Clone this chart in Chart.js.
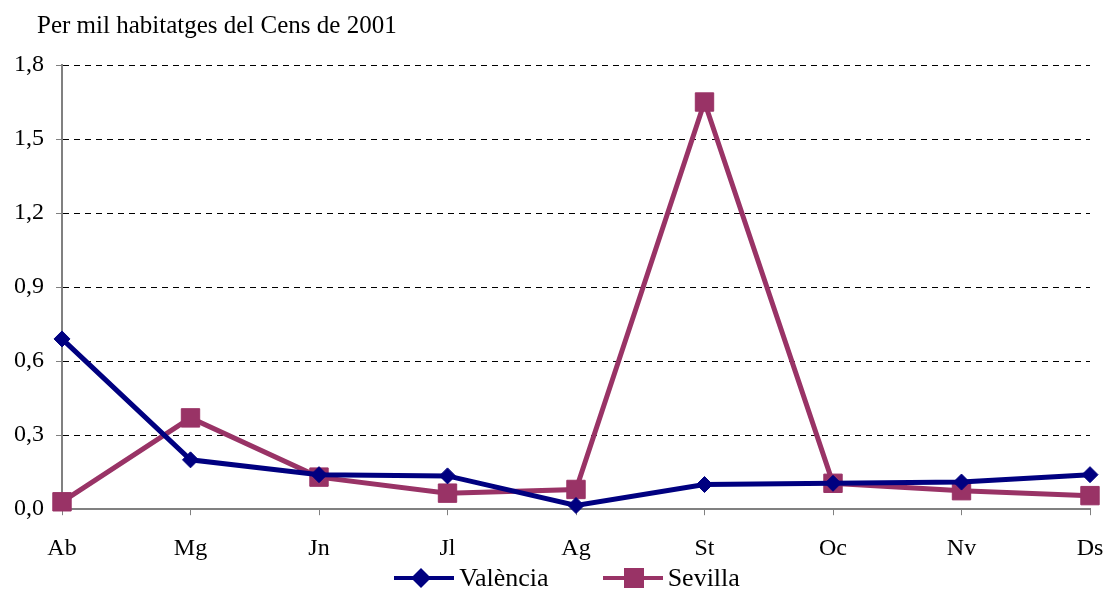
<!DOCTYPE html>
<html>
<head>
<meta charset="utf-8">
<script src="https://cdn.jsdelivr.net/npm/chart.js@4/dist/chart.umd.min.js"></script>
<style>
  body { margin: 0; background: #fff; }
  #wrap { position: relative; width: 1104px; height: 590px; font-family: "Liberation Serif", "Times New Roman", serif; }
  #title { position: absolute; left: 37px; top: 11px; font-size: 25px; color: #000; white-space: nowrap; }
  #legend { position: absolute; left: 15px; width: 1104px; top: 562px; height: 32px; display: flex; justify-content: center; align-items: center; font-size: 26px; color: #000; }
  .item { display: flex; align-items: center; margin: 0 27px; }
  .item canvas { margin-right: 5px; }
</style>
</head>
<body>
<div id="wrap">
  <canvas id="myChart" width="1104" height="590"></canvas>
  <div id="title">Per mil habitatges del Cens de 2001</div>
  <div id="legend"></div>
</div>
<script>
const months = ["Ab", "Mg", "Jn", "Jl", "Ag", "St", "Oc", "Nv", "Ds"];
const valencia = [0.69, 0.20, 0.14, 0.135, 0.015, 0.10, 0.105, 0.11, 0.14];
const sevilla = [0.03, 0.37, 0.13, 0.065, 0.08, 1.65, 0.105, 0.075, 0.055];
const yTicks = [0, 0.3, 0.6, 0.9, 1.2, 1.5, 1.8];

const navy = "#000080";
const plum = "#993366";
const font = "'Liberation Serif', 'Times New Roman', serif";

const ctx = document.getElementById("myChart").getContext("2d");
const chart = new Chart(ctx, {
  type: "line",
  data: {
    labels: months,
    datasets: [
      {
        label: "València",
        data: valencia,
        borderColor: navy,
        backgroundColor: navy,
        borderWidth: 5,
        pointStyle: "rectRot",
        pointRadius: 8,
        pointBorderWidth: 1,
        clip: false,
      },
      {
        label: "Sevilla",
        data: sevilla,
        borderColor: plum,
        backgroundColor: plum,
        borderWidth: 5,
        pointStyle: "rect",
        pointRadius: 13,
        pointBorderWidth: 1,
        clip: false,
      },
    ],
  },
  options: {
    responsive: false,
    animation: false,
    layout: { autoPadding: false, padding: { top: 65, right: 0, bottom: 8, left: 0 } },
    plugins: {
      tooltip: { enabled: false },
      legend: { display: false },
    },
    scales: {
      x: {
        offset: false,
        afterFit: (scale) => {
          // only keep room for half of the last label
          scale.paddingRight = 14;
        },
        border: { color: "#808080", width: 2 },
        grid: { drawOnChartArea: false, drawTicks: true, tickLength: 6, color: "#808080" },
        ticks: { color: "#000", padding: 19, font: { family: font, size: 24 }, maxRotation: 0 },
      },
      y: {
        min: 0,
        max: 1.8,
        afterBuildTicks: (scale) => {
          scale.ticks = yTicks.map((v) => ({ value: v }));
        },
        afterFit: (scale) => {
          scale.width = 62;
        },
        border: { color: "#808080", width: 2, dash: [6, 5] },
        grid: {
          color: "#000",
          lineWidth: 1,
          tickLength: 6,
          tickColor: "#808080",
          tickBorderDash: [],
        },
        ticks: {
          color: "#000",
          padding: 12,
          font: { family: font, size: 24 },
          callback: (v) => Number(v).toFixed(1).replace(".", ","),
        },
      },
    },
  },
});

// legend: line with marker, then the series name
const legend = document.getElementById("legend");
chart.data.datasets.forEach((ds) => {
  const item = document.createElement("div");
  item.className = "item";
  const c = document.createElement("canvas");
  c.width = 60;
  c.height = 24;
  const g = c.getContext("2d");
  g.strokeStyle = ds.borderColor;
  g.fillStyle = ds.borderColor;
  g.lineWidth = 4;
  g.beginPath();
  g.moveTo(0, 12);
  g.lineTo(60, 12);
  g.stroke();
  g.beginPath();
  if (ds.pointStyle === "rectRot") {
    g.moveTo(27, 2);
    g.lineTo(37, 12);
    g.lineTo(27, 22);
    g.lineTo(17, 12);
  } else {
    g.rect(21, 2, 20, 20);
  }
  g.fill();
  const t = document.createElement("span");
  t.textContent = ds.label;
  item.appendChild(c);
  item.appendChild(t);
  legend.appendChild(item);
});
</script>
</body>
</html>
